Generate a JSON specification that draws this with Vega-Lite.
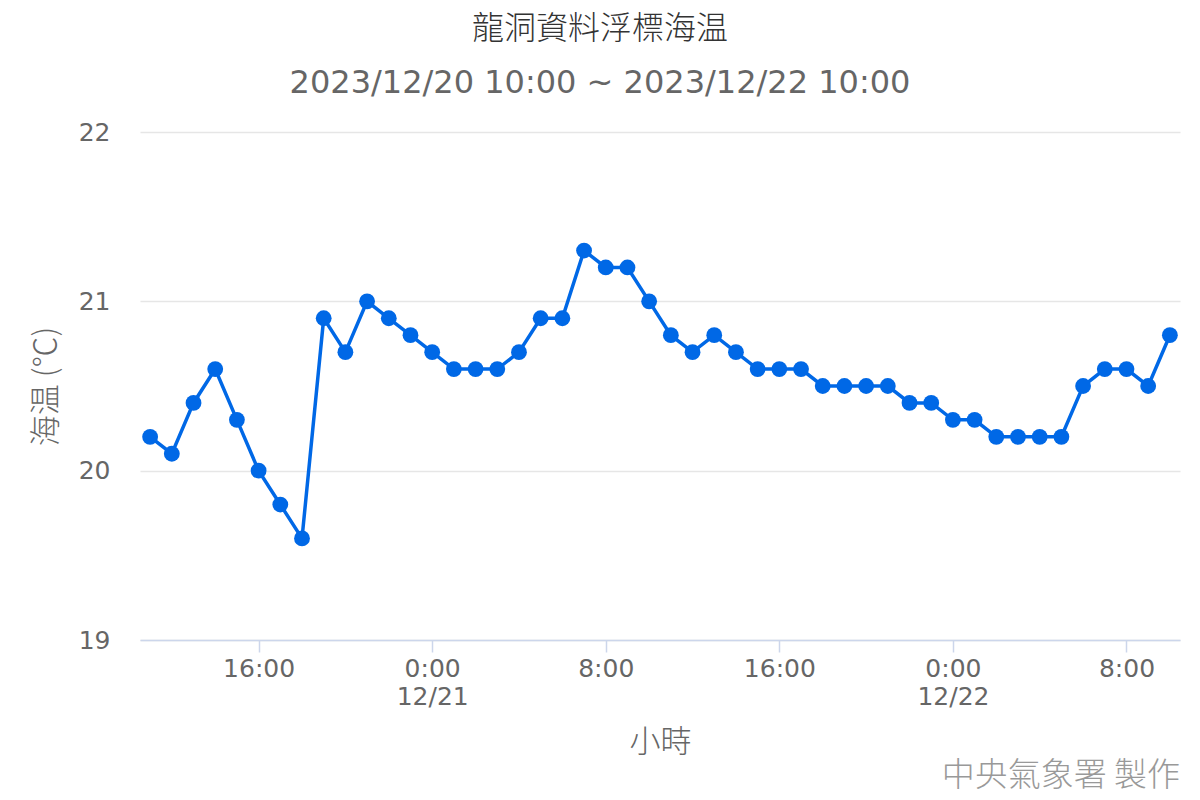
{
  "$schema": "https://vega.github.io/schema/vega-lite/v6.json",
  "width": 1040,
  "height": 508,
  "autosize": "none",
  "padding": {"left": 140, "top": 132, "right": 20, "bottom": 160},
  "background": "white",
  "title": {
    "text": "龍洞資料浮標海温",
    "subtitle": "2023/12/20 10:00 ~ 2023/12/22 10:00",
    "anchor": "middle",
    "frame": "group",
    "dx": -60,
    "offset": 20,
    "font": "Noto Sans CJK TC",
    "fontSize": 32,
    "fontWeight": 300,
    "color": "#333333",
    "subtitleFont": "DejaVu Sans",
    "subtitleFontSize": 32,
    "subtitleColor": "#666666",
    "subtitlePadding": 22,
    "subtitleFontWeight": "normal"
  },
  "config": {"view": {"stroke": null}},
  "data": {"values": [
    {"time": "2023-12-20T11:00", "temp": 20.2},
    {"time": "2023-12-20T12:00", "temp": 20.1},
    {"time": "2023-12-20T13:00", "temp": 20.4},
    {"time": "2023-12-20T14:00", "temp": 20.6},
    {"time": "2023-12-20T15:00", "temp": 20.3},
    {"time": "2023-12-20T16:00", "temp": 20.0},
    {"time": "2023-12-20T17:00", "temp": 19.8},
    {"time": "2023-12-20T18:00", "temp": 19.6},
    {"time": "2023-12-20T19:00", "temp": 20.9},
    {"time": "2023-12-20T20:00", "temp": 20.7},
    {"time": "2023-12-20T21:00", "temp": 21.0},
    {"time": "2023-12-20T22:00", "temp": 20.9},
    {"time": "2023-12-20T23:00", "temp": 20.8},
    {"time": "2023-12-21T00:00", "temp": 20.7},
    {"time": "2023-12-21T01:00", "temp": 20.6},
    {"time": "2023-12-21T02:00", "temp": 20.6},
    {"time": "2023-12-21T03:00", "temp": 20.6},
    {"time": "2023-12-21T04:00", "temp": 20.7},
    {"time": "2023-12-21T05:00", "temp": 20.9},
    {"time": "2023-12-21T06:00", "temp": 20.9},
    {"time": "2023-12-21T07:00", "temp": 21.3},
    {"time": "2023-12-21T08:00", "temp": 21.2},
    {"time": "2023-12-21T09:00", "temp": 21.2},
    {"time": "2023-12-21T10:00", "temp": 21.0},
    {"time": "2023-12-21T11:00", "temp": 20.8},
    {"time": "2023-12-21T12:00", "temp": 20.7},
    {"time": "2023-12-21T13:00", "temp": 20.8},
    {"time": "2023-12-21T14:00", "temp": 20.7},
    {"time": "2023-12-21T15:00", "temp": 20.6},
    {"time": "2023-12-21T16:00", "temp": 20.6},
    {"time": "2023-12-21T17:00", "temp": 20.6},
    {"time": "2023-12-21T18:00", "temp": 20.5},
    {"time": "2023-12-21T19:00", "temp": 20.5},
    {"time": "2023-12-21T20:00", "temp": 20.5},
    {"time": "2023-12-21T21:00", "temp": 20.5},
    {"time": "2023-12-21T22:00", "temp": 20.4},
    {"time": "2023-12-21T23:00", "temp": 20.4},
    {"time": "2023-12-22T00:00", "temp": 20.3},
    {"time": "2023-12-22T01:00", "temp": 20.3},
    {"time": "2023-12-22T02:00", "temp": 20.2},
    {"time": "2023-12-22T03:00", "temp": 20.2},
    {"time": "2023-12-22T04:00", "temp": 20.2},
    {"time": "2023-12-22T05:00", "temp": 20.2},
    {"time": "2023-12-22T06:00", "temp": 20.5},
    {"time": "2023-12-22T07:00", "temp": 20.6},
    {"time": "2023-12-22T08:00", "temp": 20.6},
    {"time": "2023-12-22T09:00", "temp": 20.5},
    {"time": "2023-12-22T10:00", "temp": 20.8}
  ]},
  "layer": [
    {
      "mark": {"type": "line", "color": "#0068e6", "strokeWidth": 3.5, "point": {"filled": true, "size": 250, "color": "#0068e6", "opacity": 1}},
      "encoding": {
        "x": {
          "field": "time", "type": "temporal",
          "scale": {"domain": [
            {"year": 2023, "month": 12, "date": 20, "hours": 10, "minutes": 32},
            {"year": 2023, "month": 12, "date": 22, "hours": 10, "minutes": 28}
          ]},
          "axis": {
            "values": [
              {"year": 2023, "month": 12, "date": 20, "hours": 16},
              {"year": 2023, "month": 12, "date": 21, "hours": 0},
              {"year": 2023, "month": 12, "date": 21, "hours": 8},
              {"year": 2023, "month": 12, "date": 21, "hours": 16},
              {"year": 2023, "month": 12, "date": 22, "hours": 0},
              {"year": 2023, "month": 12, "date": 22, "hours": 8}
            ],
            "labelExpr": "hours(datum.value) == 0 ? [timeFormat(datum.value, '%-H:%M'), timeFormat(datum.value, '%m/%d')] : timeFormat(datum.value, '%-H:%M')",
            "title": "小時",
            "titleFont": "Noto Sans CJK TC",
            "titleFontSize": 31,
            "titleFontWeight": 300,
            "titleColor": "#666666",
            "titlePadding": 18,
            "labelFont": "DejaVu Sans",
            "labelFontSize": 25,
            "labelColor": "#666666",
            "labelPadding": 4,
            "labelLineHeight": 28,
            "labelBaseline": "top",
            "domainColor": "#ccd6eb",
            "domainWidth": 1.5,
            "tickColor": "#ccd6eb",
            "tickWidth": 1.5,
            "tickSize": 12,
            "grid": false
          }
        },
        "y": {
          "field": "temp", "type": "quantitative",
          "scale": {"domain": [19, 22], "nice": false, "zero": false},
          "axis": {
            "values": [19, 20, 21, 22],
            "format": "d",
            "title": "海温 (℃)",
            "titleFont": "Noto Sans CJK TC",
            "titleFontSize": 31,
            "titleFontWeight": 300,
            "titleColor": "#666666",
            "titlePadding": 16,
            "labelFont": "DejaVu Sans",
            "labelFontSize": 25,
            "labelColor": "#666666",
            "labelPadding": 30,
            "domain": false,
            "ticks": false,
            "grid": true,
            "gridColor": "#e6e6e6",
            "gridWidth": 1.5
          }
        }
      }
    },
    {
      "data": {"values": [{"credit": "中央氣象署 製作", "t": "2023-12-22T10:28", "v": 19}]},
      "mark": {"type": "text", "align": "right", "baseline": "middle", "dy": 136, "dx": 0, "font": "Noto Sans CJK TC", "fontSize": 33, "fontWeight": 300, "color": "#999999"},
      "encoding": {
        "x": {"field": "t", "type": "temporal"},
        "y": {"field": "v", "type": "quantitative"},
        "text": {"field": "credit"}
      }
    }
  ]
}
